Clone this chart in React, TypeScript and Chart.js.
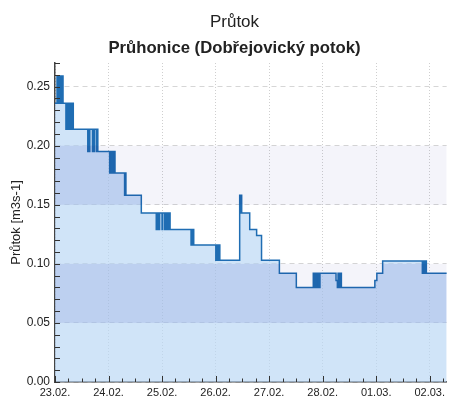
import React, { useEffect, useRef } from "react";
import { Chart, registerables } from "chart.js";

Chart.register(...registerables);

// ---- data ----
const titleText = "Průtok";
const subtitleText = "Průhonice (Dobřejovický potok)";
const yAxisTitle = "Průtok [m3s-1]";
const dateLabels = ["23.02.", "24.02.", "25.02.", "26.02.", "27.02.", "28.02.", "01.03.", "02.03."];
// time of each reading [hours since 23.02. 00:00]
const stepHours = [
  0, 0.9, 1.2, 1.5, 1.8, 2.1, 2.4, 2.7, 3.0, 3.3, 3.6,
  4.9, 5.2, 5.5, 5.8, 6.1, 6.5, 7.0, 7.3, 7.6, 7.9, 8.2,
  14.7, 15.0, 15.3, 15.6, 16.8, 17.1, 17.4, 17.7, 18.6, 18.9, 19.2,
  24.5, 24.8, 25.1, 25.4, 25.7, 26.0, 26.3, 26.6, 26.9,
  31.2, 31.5, 31.8, 38.7,
  45.4, 45.7, 46.0, 46.3, 46.6, 46.9, 48.0, 48.3, 49.2, 49.5, 49.8, 50.1, 50.4, 50.7, 51.0, 51.3, 51.6,
  61.0, 61.3, 61.6, 61.9, 62.2,
  72.1, 72.4, 72.7, 73.0, 73.3, 73.6, 73.9,
  82.8, 83.1, 83.4, 83.7, 87.3, 90.4, 92.6, 100.6, 108.2,
  115.8, 116.1, 116.4, 116.7, 117.0, 117.3, 117.6, 117.9, 118.2, 118.5, 118.8,
  126.0, 126.6, 126.9, 127.2, 127.5, 127.8, 128.1, 128.4,
  143.4, 144.3, 146.9,
  164.7, 165.0, 165.3, 165.6, 165.9, 166.2, 166.5, 176,
];
// flow [m3/s] from that time on
const stepValues = [
  0.236, 0.259, 0.236, 0.259, 0.236, 0.259, 0.236, 0.259, 0.236, 0.259, 0.236,
  0.214, 0.236, 0.214, 0.236, 0.214, 0.236, 0.214, 0.236, 0.214, 0.236, 0.214,
  0.195, 0.214, 0.195, 0.214, 0.195, 0.214, 0.195, 0.214, 0.195, 0.214, 0.195,
  0.177, 0.195, 0.177, 0.195, 0.177, 0.195, 0.177, 0.195, 0.177,
  0.158, 0.177, 0.158, 0.143,
  0.129, 0.143, 0.129, 0.143, 0.129, 0.143, 0.129, 0.143, 0.129, 0.143, 0.129, 0.143, 0.129, 0.143, 0.129, 0.143, 0.129,
  0.116, 0.129, 0.116, 0.129, 0.116,
  0.103, 0.116, 0.103, 0.116, 0.103, 0.116, 0.103,
  0.158, 0.143, 0.158, 0.143, 0.129, 0.124, 0.103, 0.092, 0.08,
  0.092, 0.08, 0.092, 0.08, 0.092, 0.08, 0.092, 0.08, 0.092, 0.08, 0.092,
  0.086, 0.08, 0.092, 0.08, 0.092, 0.08, 0.092, 0.08,
  0.086, 0.092, 0.1025,
  0.092, 0.1025, 0.092, 0.1025, 0.092, 0.1025, 0.092, 0.092,
];
const yMin = 0;
const yMax = 0.27;
const yMajorStep = 0.05;
const yMinorStep = 0.01;
const hoursPerDay = 24;
const xMinorStepHours = 6;
const xMaxHours = 175.6;
const shadedBands: [number, number][] = [
  [0.05, 0.1],
  [0.15, 0.2],
];

const FONT = "'Liberation Sans', Arial, sans-serif";

const decorPlugin = {
  id: "decor",
  afterDatasetsDraw(chart: any) {
    const { ctx, chartArea } = chart;
    const x = chart.scales.x;
    const y = chart.scales.y;
    const w = chartArea.right - chartArea.left;
    const drawBands = (color: string) => {
      ctx.fillStyle = color;
      for (const [a, b] of shadedBands) {
        const top = y.getPixelForValue(b);
        const bot = y.getPixelForValue(a);
        ctx.fillRect(chartArea.left, top, w, bot - top);
      }
    };
    ctx.save();
    ctx.beginPath();
    ctx.rect(chartArea.left, chartArea.top, w, chartArea.bottom - chartArea.top);
    ctx.clip();
    ctx.globalCompositeOperation = "multiply";
    drawBands("rgb(244,244,250)");
    // extra shade of the bands below the flow line
    const meta = chart.getDatasetMeta(0);
    const line = meta && meta.dataset;
    const pts = meta && meta.data;
    if (line && pts && pts.length) {
      ctx.beginPath();
      line.path(ctx);
      ctx.lineTo(pts[pts.length - 1].x, chartArea.bottom);
      ctx.lineTo(pts[0].x, chartArea.bottom);
      ctx.closePath();
      ctx.clip();
      drawBands("rgb(243,244,252)");
    }
    ctx.restore();

    ctx.save();
    ctx.strokeStyle = "#333";
    ctx.lineWidth = 1;
    ctx.beginPath();
    for (let h = 0; h <= x.max; h += xMinorStepHours) {
      const px = Math.round(x.getPixelForValue(h)) + 0.5;
      const len = h % hoursPerDay === 0 ? 6 : 3.5;
      ctx.moveTo(px, chartArea.bottom);
      ctx.lineTo(px, chartArea.bottom - len);
    }
    const nMinor = Math.round((yMax - yMin) / yMinorStep);
    for (let i = 0; i <= nMinor; i++) {
      const v = yMin + i * yMinorStep;
      const py = Math.round(y.getPixelForValue(v)) + 0.5;
      ctx.moveTo(chartArea.left, py);
      ctx.lineTo(chartArea.left + 5, py);
    }
    ctx.stroke();
    ctx.restore();
  },
};

export default function App() {
  const canvasRef = useRef<HTMLCanvasElement | null>(null);

  useEffect(() => {
    document.body.style.margin = "0";
    const canvas = canvasRef.current;
    if (!canvas) return;
    const points = stepHours.map((h, i) => ({ x: h, y: stepValues[i] }));
    const chart = new Chart(canvas, {
      type: "line",
      data: {
        datasets: [
          {
            data: points,
            stepped: true,
            borderColor: "#1f6db3",
            borderWidth: 1.5,
            backgroundColor: "rgba(185,215,245,0.68)",
            fill: "origin",
            pointRadius: 0,
          },
        ],
      },
      options: {
        animation: false,
        responsive: false,
        maintainAspectRatio: false,
        layout: { padding: { top: 63, right: 0, left: 0, bottom: 0 } },
        plugins: {
          legend: { display: false },
          tooltip: { enabled: false },
          title: { display: false },
        },
        scales: {
          x: {
            type: "linear",
            min: 0,
            max: xMaxHours,
            afterFit: (s: any) => {
              s.height = 20;
            },
            ticks: {
              stepSize: hoursPerDay,
              includeBounds: false,
              autoSkip: false,
              maxRotation: 0,
              padding: 4,
              color: "#222",
              font: { family: FONT, size: 11 },
              callback: (v: any) => dateLabels[Math.round(Number(v) / hoursPerDay)] ?? "",
            },
            grid: { color: "#cfcfcf", drawTicks: false, lineWidth: 1 },
            border: { color: "#444", width: 1.5, dash: [1, 2] },
          },
          y: {
            type: "linear",
            min: yMin,
            max: yMax,
            afterFit: (s: any) => {
              s.width = 55;
            },
            ticks: {
              stepSize: yMajorStep,
              includeBounds: false,
              padding: 5,
              color: "#222",
              font: { family: FONT, size: 12 },
              callback: (v: any) => Number(v).toFixed(2),
            },
            grid: { color: "#d6d6d6", drawTicks: false, lineWidth: 1 },
            border: { color: "#444", width: 1.5, dash: [5, 4] },
            title: {
              display: true,
              text: yAxisTitle,
              color: "#222",
              font: { family: FONT, size: 13 },
              padding: { top: 9, bottom: 0 },
            },
          },
        },
      },
      plugins: [decorPlugin],
    });
    return () => chart.destroy();
  }, []);

  return (
    <div style={{ position: "relative", width: 449, height: 402, background: "#fff", overflow: "hidden" }}>
      <canvas ref={canvasRef} width={449} height={402} style={{ position: "absolute", left: 0, top: 0 }} />
      <div
        style={{
          position: "absolute",
          left: 20,
          right: 0,
          top: 12,
          textAlign: "center",
          fontFamily: FONT,
          fontSize: 17,
          lineHeight: "19px",
          color: "#222",
          whiteSpace: "nowrap",
        }}
      >
        {titleText}
      </div>
      <div
        style={{
          position: "absolute",
          left: 20,
          right: 0,
          top: 38,
          textAlign: "center",
          fontFamily: FONT,
          fontSize: 16.7,
          fontWeight: "bold",
          lineHeight: "19px",
          color: "#222",
          whiteSpace: "nowrap",
        }}
      >
        {subtitleText}
      </div>
    </div>
  );
}
